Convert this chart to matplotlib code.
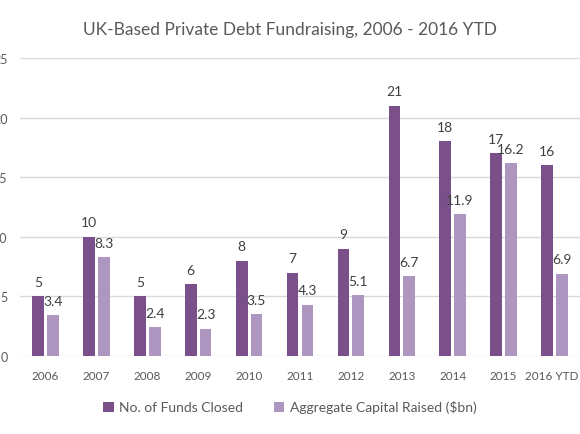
import matplotlib
matplotlib.use("Agg")
import matplotlib.pyplot as plt
import numpy as np

categories = ["2006", "2007", "2008", "2009", "2010", "2011", "2012", "2013", "2014", "2015", "2016 YTD"]
funds_closed = [5, 10, 5, 6, 8, 7, 9, 21, 18, 17, 16]
capital_raised = [3.4, 8.3, 2.4, 2.3, 3.5, 4.3, 5.1, 6.7, 11.9, 16.2, 6.9]
funds_labels = ["5", "10", "5", "6", "8", "7", "9", "21", "18", "17", "16"]
capital_labels = ["3.4", "8.3", "2.4", "2.3", "3.5", "4.3", "5.1", "6.7", "11.9", "16.2", "6.9"]
y_ticks = [0, 5, 10, 15, 20, 25]

plt.rcParams['font.family'] = ['Lato', 'DejaVu Sans']

dark = "#7B4F8A"
light = "#AD96BF"
txt = "#595959"

fig = plt.figure(figsize=(5.8, 4.35), dpi=100)
ax = fig.add_axes([20/580, 1 - 357/435, 560/580, (357 - 59)/435])

x = np.arange(len(categories))
w = 0.23
off = 0.145
b1 = ax.bar(x - off, funds_closed, w, color=dark, label="No. of Funds Closed", zorder=3)
b2 = ax.bar(x + off, capital_raised, w, color=light, label="Aggregate Capital Raised ($bn)", zorder=3)

for xi, v, s in zip(x, funds_closed, funds_labels):
    ax.annotate(s, (xi - off, v), xytext=(0, 6), textcoords="offset points",
                ha="center", va="bottom", fontsize=10, color="#404040")
for xi, v, s in zip(x, capital_raised, capital_labels):
    ax.annotate(s, (xi + off, v), xytext=(0, 6), textcoords="offset points",
                ha="center", va="bottom", fontsize=10, color="#404040")

ax.set_xlim(-0.5, len(categories) - 0.5)
ax.set_ylim(0, 25)
ax.set_yticks(y_ticks)
ax.set_yticklabels([str(t) for t in y_ticks], fontsize=9, color=txt)
ax.set_xticks(x)
ax.set_xticklabels(categories, fontsize=8.5, color=txt)
ax.get_xticklabels()[-1].set_horizontalalignment("right")
ax.tick_params(axis="both", length=0)
ax.tick_params(axis="y", pad=9)
ax.tick_params(axis="x", pad=10)
ax.yaxis.grid(True, color="#D9D9D9", linewidth=1, zorder=0)
for s in ax.spines.values():
    s.set_visible(False)
# nudge last label so it stays inside the figure
import matplotlib.transforms as mtransforms
lbl = ax.get_xticklabels()[-1]
lbl.set_transform(lbl.get_transform() + mtransforms.ScaledTranslation(24/100, 0, fig.dpi_scale_trans))

fig.text(0.5, 1 - 30/435, "UK-Based Private Debt Fundraising, 2006 - 2016 YTD",
         ha="center", va="center", fontsize=12.5, color=txt)

leg = fig.legend(handles=[b1, b2], loc="center", bbox_to_anchor=(0.5, 1 - 408/435),
                 ncol=2, frameon=False, fontsize=10, handlelength=0.75, handleheight=0.75,
                 handletextpad=0.4, columnspacing=2.2)
for t in leg.get_texts():
    t.set_color(txt)

fig.savefig("out.png", dpi=100)
